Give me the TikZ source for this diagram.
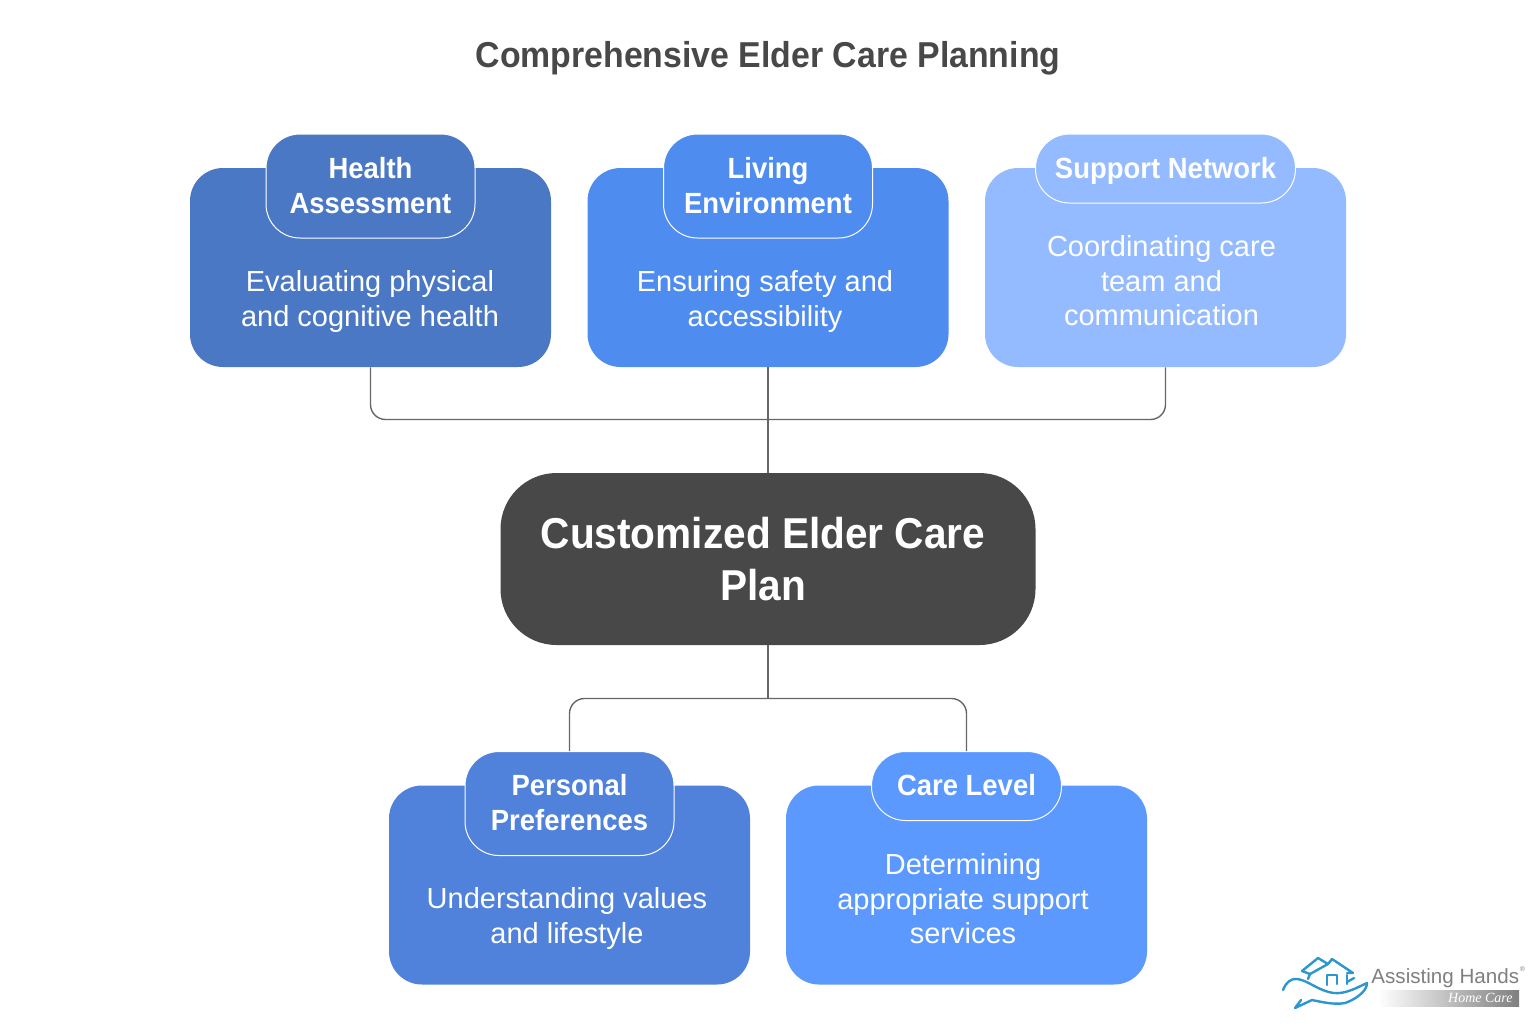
\documentclass[tikz,border=0pt]{standalone}
\usepackage{fontspec}
\setmainfont[BoldFeatures={FakeStretch=0.94}]{Liberation Sans}
\newfontfamily\careserif{Liberation Serif}
\usetikzlibrary{shapes.geometric}
\definecolor{healthblue}{HTML}{4A78C4}
\definecolor{livingblue}{HTML}{4F8CF0}
\definecolor{supportblue}{HTML}{94BAFF}
\definecolor{prefblue}{HTML}{5082DC}
\definecolor{levelblue}{HTML}{5B99FF}
\definecolor{plangrey}{HTML}{484848}
\definecolor{linkgrey}{HTML}{666666}
\definecolor{logoblue}{HTML}{2E96CE}
\definecolor{logogrey}{HTML}{7F7F7F}
\tikzset{
	card/.style={draw=none, rounded corners=16.5pt, minimum width=180.5pt, minimum height=99.5pt, inner sep=0pt},
	head/.style={draw=white, line width=0.5pt, rounded corners=17pt, minimum width=104.5pt, minimum height=52pt, inner sep=0pt},
	headlow/.style={draw=white, line width=0.5pt, rounded corners=17pt, minimum height=34.5pt, inner sep=0pt},
	headtext/.style={text=white, font=\fontsize{14.6}{17.3}\selectfont\bfseries, align=center},
	bodytext/.style={text=white, font=\fontsize{14.5}{17.3}\selectfont, align=center},
	link/.style={draw=linkgrey, line width=0.7pt, rounded corners=7.5pt},
	logoline/.style={draw=logoblue, line width=1.2pt, line join=round, line cap=round},
}
\begin{document}
\begin{tikzpicture}[x=0.5pt, y=-0.5pt]
	\useasboundingbox (0,0) rectangle (1536,1024);
	\node[text=plangrey, font=\fontsize{18}{21}\selectfont\bfseries] (title) at (768,58) {Comprehensive Elder Care Planning};

	% top row
	\node[card, fill=healthblue] (health) at (370.5,267.5) {};
	\node[card, fill=livingblue] (living) at (768,267.5) {};
	\node[card, fill=supportblue] (support) at (1165.5,267.5) {};
	\node[head, fill=healthblue] (healthhead) at (370.5,186) {};
	\node[head, fill=livingblue] (livinghead) at (768,186) {};
	\node[headlow, fill=supportblue, minimum width=130pt] (supporthead) at (1165.5,168.5) {};
	\node[headtext] (healthname) at (370.5,185.5) {Health\\Assessment};
	\node[headtext] (livingname) at (768,185.5) {Living\\Environment};
	\node[headtext] (supportname) at (1165.5,171) {Support Network};
	\node[bodytext] (healthtext) at (370,301.5) {Evaluating physical\\and cognitive health};
	\node[bodytext] (livingtext) at (765,301.5) {Ensuring safety and\\accessibility};
	\node[bodytext] (supporttext) at (1161.5,281) {Coordinating care\\team and\\communication};

	% centre
	\node[fill=plangrey, rounded corners=28pt, minimum width=267.5pt, minimum height=86pt, inner sep=0pt] (plan) at (768,559) {};
	\node[text=white, font=\fontsize{21.6}{26}\selectfont\bfseries, align=center] (planname) at (763,559.5) {Customized Elder Care\\Plan};

	% bottom row
	\node[card, fill=prefblue] (pref) at (569.5,885) {};
	\node[card, fill=levelblue] (level) at (966.5,885) {};
	\node[head, fill=prefblue] (prefhead) at (569.5,803.5) {};
	\node[headlow, fill=levelblue, minimum width=95pt] (levelhead) at (966.5,786) {};
	\node[headtext] (prefname) at (569.5,802.5) {Personal\\Preferences};
	\node[headtext] (levelname) at (966.5,785.5) {Care Level};
	\node[bodytext] (preftext) at (567,918.5) {Understanding values\\and lifestyle};
	\node[bodytext] (leveltext) at (963,899) {Determining\\appropriate support\\services};

	% connectors
	\coordinate (topbus) at (768,419.5);
	\coordinate (lowbus) at (768,698.5);
	\draw[link] (health.south) |- (topbus);
	\draw[link] (support.south) |- (topbus);
	\draw[link] (living.south) -- (plan.north);
	\draw[link] (plan.south) -- (lowbus);
	\draw[link] (prefhead.north) |- (lowbus);
	\draw[link] (levelhead.north) |- (lowbus);

	% logo
	\draw[logoline] (1308,979) -- (1310,974) -- (1302,971) -- (1318,958) -- (1328,964) -- (1332,959) -- (1353,973) -- (1347,973);
	\draw[logoline] (1310,974) -- (1328,964);
	\draw[logoline] (1327,985) -- (1327,975) -- (1337,975) -- (1337,984);
	\draw[logoline] (1347,984) -- (1347,975);
	\draw[logoline] (1347,982) -- (1354,978);
	\draw[logoline] (1283,990) .. controls (1286,982) and (1292,978) .. (1297,979)
		.. controls (1308,980) and (1318,991) .. (1334,993)
		.. controls (1346,994) and (1356,988) .. (1367,983)
		.. controls (1367,992) and (1354,1000) .. (1345,1003)
		.. controls (1334,1005) and (1322,1002) .. (1312,1000)
		-- (1295,1008) -- (1301,1000);
	\shade[left color=white, right color=logogrey] (1378,990) rectangle (1519,1006);
	\node[text=logogrey, font=\fontsize{10.3}{12}\selectfont, anchor=base west, inner sep=0pt] (logoname) at (1371,983) {Assisting Hands};
	\node[text=logogrey, font=\fontsize{3.5}{4}\selectfont, inner sep=0pt] (logomark) at (1522.5,969) {®};
	\node[text=white, font=\careserif\itshape\fontsize{7}{8}\selectfont, anchor=base east, inner sep=0pt] (logotag) at (1513,1002) {Home Care};
\end{tikzpicture}
\end{document}
